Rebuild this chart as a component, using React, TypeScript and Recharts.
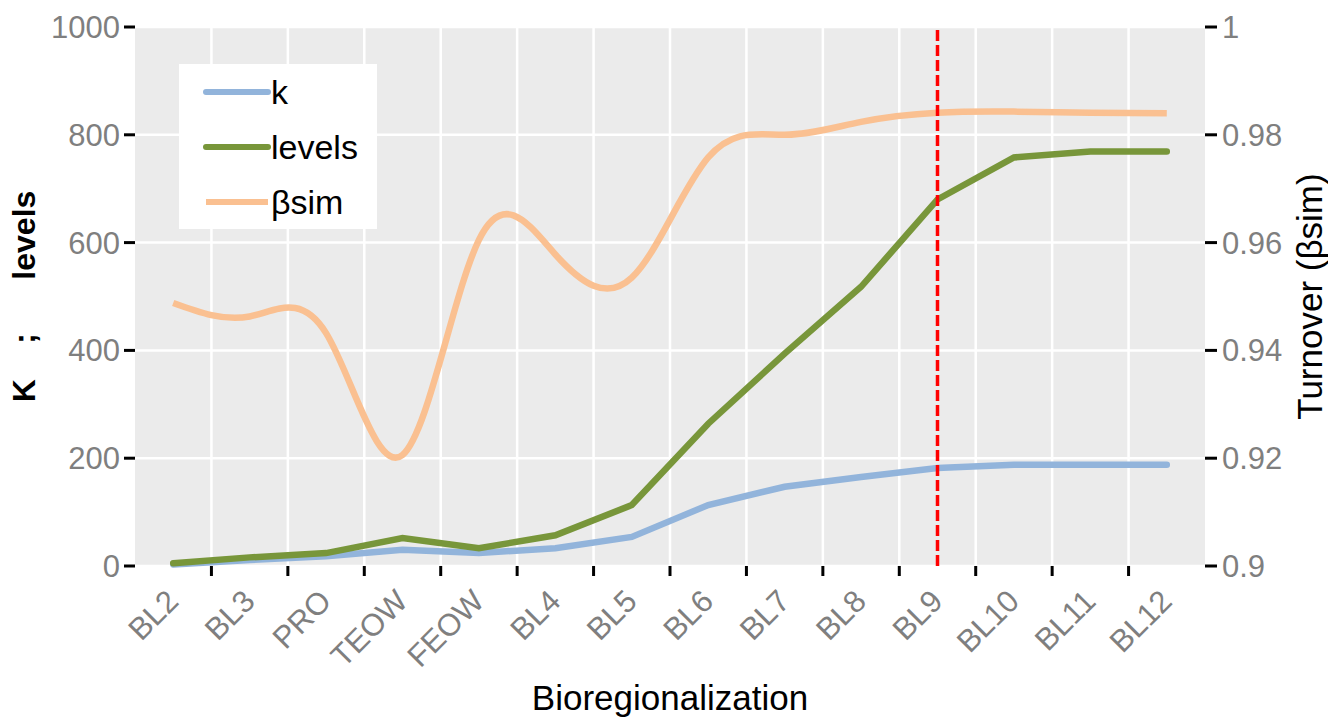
import { LineChart, Line, XAxis, YAxis, CartesianGrid, ReferenceLine, Legend, Label } from 'recharts';

const categories = ['BL2', 'BL3', 'PRO', 'TEOW', 'FEOW', 'BL4', 'BL5', 'BL6', 'BL7', 'BL8', 'BL9', 'BL10', 'BL11', 'BL12'];
const kValues = [3, 11, 18, 30, 24, 33, 54, 113, 147, 165, 182, 188, 188, 188];
const levelValues = [5, 16, 24, 52, 33, 57, 113, 264, 394, 518, 680, 758, 769, 769];
const betaSimValues = [0.9488, 0.9463, 0.9432, 0.9206, 0.9605, 0.9578, 0.9535, 0.9758, 0.98, 0.9824, 0.9841, 0.9843, 0.9841, 0.984];
const leftTicks = [0, 200, 400, 600, 800, 1000];
const rightTicks = [0.9, 0.92, 0.94, 0.96, 0.98, 1];
const cutoffCategory = 'BL9';

const data = categories.map((name, i) => ({
  idx: i,
  name,
  k: kValues[i],
  levels: levelValues[i],
  bsim: betaSimValues[i],
}));

const centerTicks = categories.map((_, i) => i);
const boundaryTicks = categories.slice(1).map((_, i) => i + 0.5);
const xDomain = [-0.5, categories.length - 0.5];

const FONT = '"Liberation Sans", Arial, Helvetica, sans-serif';
const GRAY = '#7f7f7f';

// the grid axis scale can be a plain d3 function or a wrapper with .map
const scaleOf = (axis: any, v: number) => {
  const s = axis?.scale;
  if (typeof s === 'function') return s(v);
  if (s && typeof s.map === 'function') return s.map(v);
  return undefined;
};

const CategoryTick = (props: any) => {
  const { x, y, payload } = props;
  return (
    <g transform={`translate(${x + 7},${y + 27}) rotate(-45)`}>
      <text x={0} y={0} textAnchor="end" fill={GRAY} fontSize={31} fontFamily={FONT}>
        {categories[payload.value]}
      </text>
    </g>
  );
};

const EmptyTick = () => <g />;

const renderLegend = (props: any) => {
  const { payload } = props;
  return (
    <div
      style={{
        background: '#fff',
        width: 198,
        height: 165,
        boxSizing: 'border-box',
        paddingLeft: 24,
        fontFamily: FONT,
      }}
    >
      {payload.map((entry: any) => (
        <div key={entry.value} style={{ height: 55, display: 'flex', alignItems: 'center' }}>
          <svg width={70} height={10} style={{ display: 'block' }}>
            <line
              x1={3}
              y1={5}
              x2={65}
              y2={5}
              stroke={entry.color}
              strokeWidth={6}
              strokeLinecap={entry.value === 'βsim' ? 'butt' : 'round'}
            />
          </svg>
          <span style={{ fontSize: 34, color: '#000', marginLeft: -2, lineHeight: '34px' }}>{entry.value}</span>
        </div>
      ))}
    </div>
  );
};

export default function App() {
  return (
    <div style={{ position: 'absolute', left: 0, top: 0, background: '#fff' }}>
      <LineChart width={1328} height={717} data={data} margin={{ top: 27, right: 0, bottom: 0, left: 0 }}>
        <CartesianGrid
          xAxisId="grid"
          yAxisId="left"
          fill="#ebebeb"
          fillOpacity={1}
          stroke="#ffffff"
          strokeWidth={2.5}
          verticalCoordinatesGenerator={({ xAxis }: any) =>
            boundaryTicks.map((t) => scaleOf(xAxis, t)).filter((v) => typeof v === 'number' && !isNaN(v))
          }
        />
        <XAxis
          xAxisId="grid"
          type="number"
          dataKey="idx"
          domain={xDomain}
          ticks={boundaryTicks}
          interval={0}
          height={10}
          tick={<EmptyTick />}
          tickSize={10}
          tickLine={{ stroke: '#000', strokeWidth: 3 }}
          axisLine={false}
        />
        <XAxis
          xAxisId="lab"
          type="number"
          dataKey="idx"
          domain={xDomain}
          ticks={centerTicks}
          interval={0}
          height={141}
          tick={<CategoryTick />}
          tickSize={0}
          tickMargin={0}
          tickLine={false}
          axisLine={false}
        >
          <Label
            value="Bioregionalization"
            position="insideBottom"
            offset={7}
            style={{ fontSize: 35, fontFamily: FONT, fill: '#000' }}
          />
        </XAxis>
        <YAxis
          yAxisId="left"
          width={135}
          domain={[0, 1000]}
          ticks={leftTicks}
          interval={0}
          tickSize={11}
          tickMargin={4}
          tickLine={{ stroke: '#000', strokeWidth: 3 }}
          axisLine={false}
          tick={{ fill: GRAY, fontSize: 31, fontFamily: FONT }}
        >
          <Label
            value={'K\u00a0\u00a0\u00a0\u00a0;\u00a0\u00a0\u00a0\u00a0\u00a0\u00a0levels'}
            angle={-90}
            position="insideLeft"
            offset={24}
            style={{ textAnchor: 'middle', fontSize: 32, fontWeight: 'bold', fontFamily: FONT, fill: '#000' }}
          />
        </YAxis>
        <YAxis
          yAxisId="right"
          orientation="right"
          width={123}
          domain={[0.9, 1]}
          ticks={rightTicks}
          interval={0}
          tickSize={12}
          tickMargin={5}
          tickLine={{ stroke: '#000', strokeWidth: 3 }}
          axisLine={false}
          tickFormatter={(v: number) => String(Number(v.toFixed(2)))}
          tick={{ fill: GRAY, fontSize: 31, fontFamily: FONT }}
        >
          <Label
            value="Turnover (βsim)"
            angle={-90}
            position="insideRight"
            offset={18}
            style={{ textAnchor: 'middle', fontSize: 35, fontFamily: FONT, fill: '#000' }}
          />
        </YAxis>
        <Legend
          layout="vertical"
          align="center"
          verticalAlign="middle"
          content={renderLegend}
          wrapperStyle={{ left: 179, top: 64, width: 198, height: 165 }}
        />
        <Line
          xAxisId="lab"
          yAxisId="left"
          name="k"
          dataKey="k"
          type="linear"
          stroke="#92b4db"
          strokeWidth={6.5}
          strokeLinecap="round"
          dot={false}
          activeDot={false}
          isAnimationActive={false}
        />
        <Line
          xAxisId="lab"
          yAxisId="left"
          name="levels"
          dataKey="levels"
          type="linear"
          stroke="#78963a"
          strokeWidth={6.5}
          strokeLinecap="round"
          dot={false}
          activeDot={false}
          isAnimationActive={false}
        />
        <Line
          xAxisId="lab"
          yAxisId="right"
          name="βsim"
          dataKey="bsim"
          type="natural"
          stroke="#fac091"
          strokeWidth={6.5}
          dot={false}
          activeDot={false}
          isAnimationActive={false}
        />
        <ReferenceLine
          xAxisId="lab"
          yAxisId="left"
          x={categories.indexOf(cutoffCategory)}
          stroke="#ff0000"
          strokeWidth={3.5}
          strokeDasharray="11 4"
        />
      </LineChart>
    </div>
  );
}
